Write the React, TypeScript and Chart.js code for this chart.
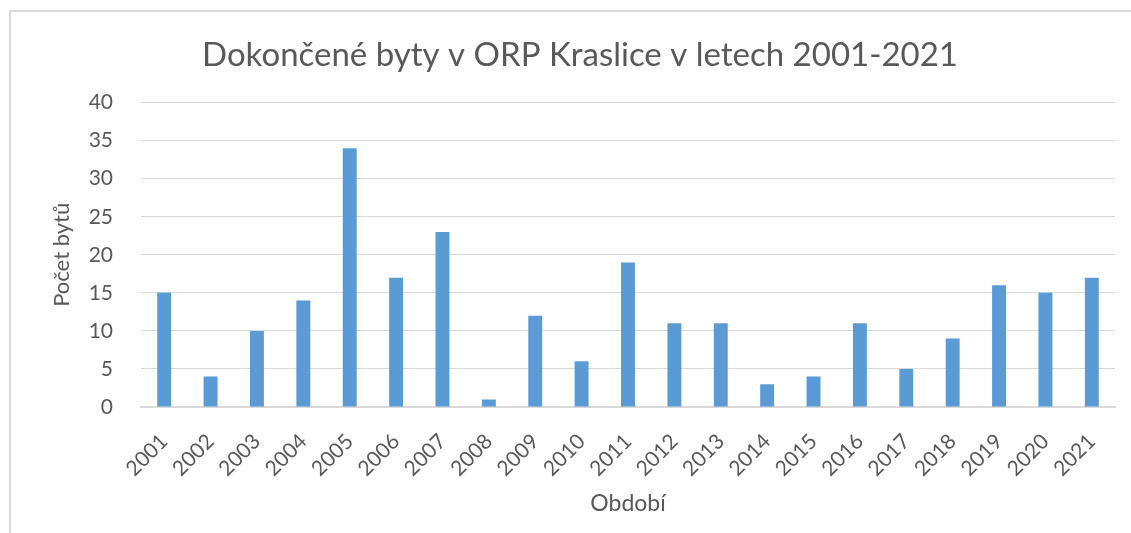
import React, { useEffect, useRef } from "react";
import { Chart, registerables } from "chart.js";

Chart.register(...registerables);

const years = ["2001","2002","2003","2004","2005","2006","2007","2008","2009","2010","2011","2012","2013","2014","2015","2016","2017","2018","2019","2020","2021"];
const flats = [15, 4, 10, 14, 34, 17, 23, 1, 12, 6, 19, 11, 11, 3, 4, 11, 5, 9, 16, 15, 17];
const chartTitle = "Dokončené byty v ORP Kraslice v letech 2001-2021";
const yTitle = "Počet bytů";
const xTitle = "Období";

const FONT = "Lato, 'Open Sans', sans-serif";
const TEXT = "#595959";

export default function App() {
  const ref = useRef<HTMLCanvasElement | null>(null);
  useEffect(() => {
    if (!ref.current) return;
    const chart = new Chart(ref.current, {
      type: "bar",
      data: {
        labels: years,
        datasets: [{
          data: flats,
          backgroundColor: "#5b9bd5",
          barPercentage: 0.3,
          categoryPercentage: 1,
        }],
      },
      options: {
        animation: false,
        responsive: false,
        maintainAspectRatio: false,
        layout: { padding: { left: 45, right: 16, top: 0, bottom: 12 } },
        plugins: {
          legend: { display: false },
          tooltip: { enabled: false },
          title: {
            display: true,
            text: chartTitle,
            color: TEXT,
            font: { family: FONT, size: 33, weight: "normal" },
            padding: { top: 36, bottom: 27 },
          },
        },
        scales: {
          x: {
            grid: { display: false },
            border: { display: true, color: "#d9d9d9", width: 2 },
            ticks: {
              color: TEXT,
              font: { family: FONT, size: 21 },
              maxRotation: 45,
              minRotation: 45,
              padding: 14,
              autoSkip: false,
            },
            title: {
              display: true,
              text: xTitle,
              color: TEXT,
              font: { family: FONT, size: 23 },
            },
            afterFit: (s: any) => { s.height = 533 - 407 - 12; },
          },
          y: {
            min: 0,
            max: 40,
            grid: { color: "#d9d9d9", drawTicks: false, lineWidth: 1 },
            border: { display: false },
            ticks: {
              stepSize: 5,
              color: TEXT,
              font: { family: FONT, size: 21 },
              padding: 28,
            },
            title: {
              display: true,
              text: yTitle,
              color: TEXT,
              font: { family: FONT, size: 22 },
            },
            afterFit: (s: any) => { s.width = 141 - 45; },
          },
        },
      },
    });
    return () => chart.destroy();
  }, []);
  return (
    <div style={{ position: "absolute", left: 0, top: 0, width: 1131, height: 533, background: "#fff", overflow: "hidden" }}>
      <div style={{ position: "absolute", left: 9, top: 10, right: 0, bottom: 0, borderLeft: "2px solid #d9d9d9", borderTop: "2px solid #d9d9d9" }} />
      <canvas ref={ref} width={1131} height={533} style={{ position: "absolute", left: 0, top: 0, display: "block" }} />
    </div>
  );
}
